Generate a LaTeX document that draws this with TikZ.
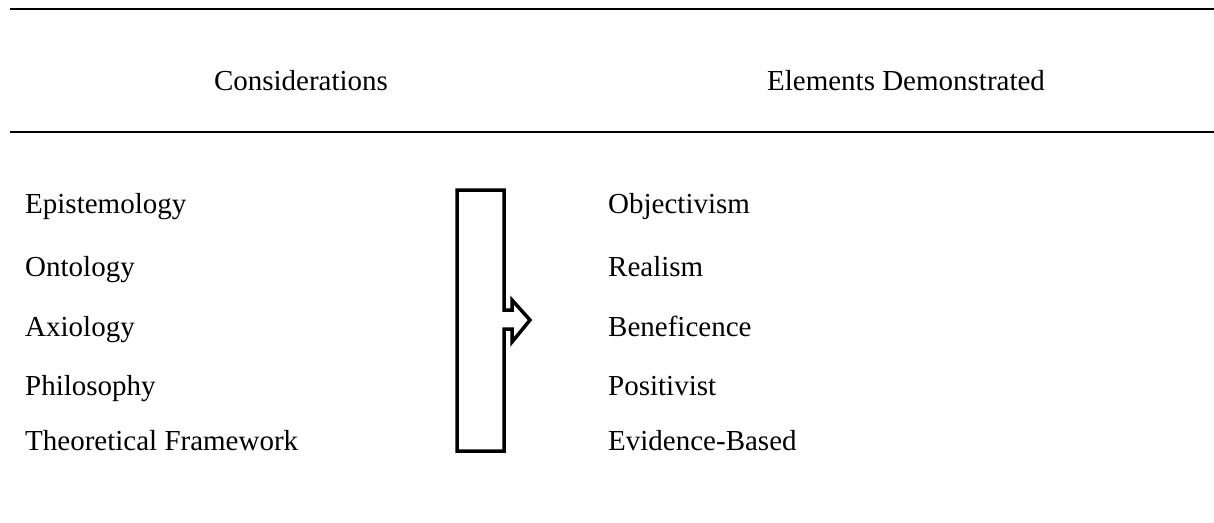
\documentclass[tikz,border=0pt]{standalone}
\usepackage{fontspec}
\setmainfont{Liberation Serif}
\usepackage{tikz}
\usetikzlibrary{positioning}

\tikzset{
  rule/.style={line width=2.5pt},
  colhead/.style={anchor=base,inner sep=0pt,font=\fontsize{29}{34}\selectfont},
  item/.style={anchor=base west,inner sep=0pt,font=\fontsize{29}{34}\selectfont},
  bigarrow/.style={line width=3.5pt,line join=miter}
}

\begin{document}
\begin{tikzpicture}[x=1pt,y=-1pt]
\useasboundingbox (0,0) rectangle (1214,522);
% Header rules and titles
\draw[rule] (10,9) -- (1214,9);
\draw[rule] (10,132) -- (1214,132);
\node[colhead] (considerations) at (301,90) {Considerations};
\node[colhead] (elements) at (906,90) {Elements Demonstrated};

% Rows of the table
\foreach \i/\cons/\elem/\y in {1/Epistemology/Objectivism/213,
    2/Ontology/Realism/276, 3/Axiology/Beneficence/336,
    4/Philosophy/Positivist/395, 5/Theoretical Framework/Evidence-Based/450} {
    \node[item] (cons\i) at (25,\y) {\cons};
    \node[item] (elem\i) at (608,\y) {\elem};
}

% Bracket with arrow
\draw[bigarrow] (457,190) -- (504,190) -- (504,310) -- (512,310) -- (512,300)
    -- (530,320) -- (512,342) -- (512,329) -- (504,329) -- (504,451)
    -- (457,451) -- cycle;
\end{tikzpicture}
\end{document}
